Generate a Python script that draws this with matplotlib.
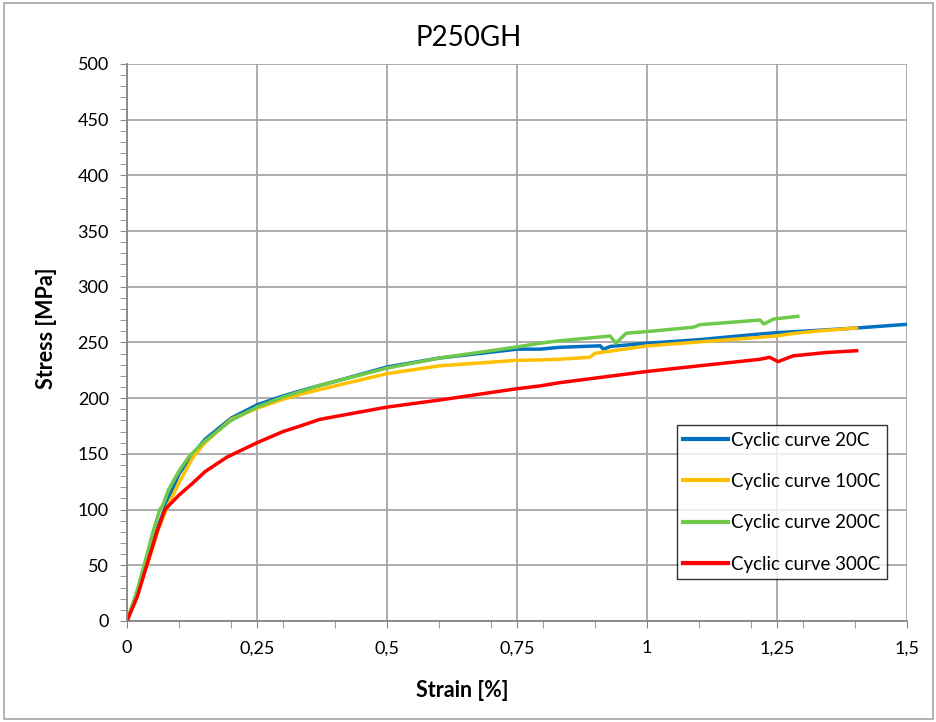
import matplotlib.pyplot as plt
from matplotlib.patches import Rectangle
from matplotlib.ticker import MultipleLocator

plt.rcParams['font.family'] = ['Lato', 'DejaVu Sans']

# cyclic stress-strain curves, strain in %, stress in MPa
strain_20 = [0, 0.02, 0.04, 0.06, 0.08, 0.10, 0.127, 0.15, 0.2, 0.25, 0.3, 0.333, 0.371, 0.4,
             0.5, 0.6, 0.75, 0.794, 0.833, 0.91, 0.916, 0.93, 1.0, 1.1, 1.217, 1.25, 1.333,
             1.403, 1.5]
stress_20 = [0, 25, 55, 85, 110, 132, 150, 163, 182, 194, 202, 206.5, 211.5, 215,
             228, 236, 244, 244, 245.7, 247, 244, 246.5, 249.3, 252.5, 257.6, 258.8, 261,
             263, 266.3]

strain_100 = [0, 0.02, 0.04, 0.06, 0.08, 0.10, 0.127, 0.15, 0.2, 0.25, 0.3, 0.333, 0.4, 0.5,
              0.6, 0.75, 0.794, 0.833, 0.89, 0.9, 1.0, 1.1, 1.217, 1.25, 1.28, 1.333, 1.403]
stress_100 = [0, 25, 52, 82, 105, 124, 147, 160, 181, 191, 199, 203.5, 211, 222,
              229, 234, 234.3, 235, 236.7, 240.3, 246.9, 250.5, 254.6, 256, 258, 260.5, 263]

strain_200 = [0, 0.02, 0.033, 0.05, 0.063, 0.069, 0.08, 0.102, 0.12, 0.146, 0.2, 0.25, 0.3,
              0.371, 0.4, 0.5, 0.6, 0.75, 0.794, 0.833, 0.90, 0.929, 0.940, 0.96, 1.0, 1.089,
              1.102, 1.2, 1.217, 1.225, 1.243, 1.29]
stress_200 = [0, 28, 50, 80, 100, 104, 118, 136, 148, 160, 180, 192, 201,
              211.5, 215, 227, 236, 246, 249.3, 251.6, 254.5, 255.8, 249.3, 258.3, 259.8, 263.7,
              266, 269.5, 270.2, 266.6, 271, 273.5]

strain_300 = [0, 0.02, 0.038, 0.05, 0.057, 0.073, 0.1, 0.127, 0.15, 0.192, 0.25, 0.3, 0.333,
              0.371, 0.5, 0.602, 0.75, 0.794, 0.833, 1.0, 1.217, 1.236, 1.252, 1.281,
              1.345, 1.403]
stress_300 = [0, 22, 50, 68, 79, 100, 113, 124, 134, 147, 160, 170, 175,
              181, 192, 198.4, 208.5, 211, 214, 224, 234.9, 236.7, 232.8, 238,
              241, 242.6]

x_ticks = [0, 0.25, 0.5, 0.75, 1, 1.25, 1.5]
x_labels = ['0', '0,25', '0,5', '0,75', '1', '1,25', '1,5']

fig = plt.figure(figsize=(9.37, 7.22), dpi=100)
ax = fig.add_axes([0.1355, 0.1399, 0.8325, 0.7715])

lw = 2.5
ax.plot(strain_20, stress_20, color='#0070c0', lw=lw, label='Cyclic curve 20C')
ax.plot(strain_100, stress_100, color='#ffc000', lw=lw, label='Cyclic curve 100C')
ax.plot(strain_200, stress_200, color='#70c94a', lw=lw, label='Cyclic curve 200C')
ax.plot(strain_300, stress_300, color='#ff0000', lw=lw, label='Cyclic curve 300C')

ax.set_xlim(0, 1.5)
ax.set_ylim(0, 500)
ax.set_xticks(x_ticks)
ax.set_xticklabels(x_labels)
ax.set_yticks(range(0, 501, 50))
ax.xaxis.set_minor_locator(MultipleLocator(0.1))
ax.yaxis.set_minor_locator(MultipleLocator(10))
ax.tick_params(axis='x', which='major', length=5, pad=9, labelsize=13, color='#868686')
ax.tick_params(axis='y', which='major', length=5, pad=8, labelsize=13, color='#868686')
ax.tick_params(which='minor', length=5, color='#868686')

ax.grid(True, which='major', color='#a6a6a6', lw=1.3)
ax.set_axisbelow(True)
for side in ['top', 'right']:
    ax.spines[side].set_visible(False)
for side in ['left', 'bottom']:
    ax.spines[side].set_color('#868686')
    ax.spines[side].set_linewidth(1.3)

ax.set_xlabel('Strain [%]', fontsize=15.5, fontweight='bold')
ax.set_ylabel('Stress [MPa]', fontsize=15.5, fontweight='bold')
ax.xaxis.set_label_coords(0.43, -0.106)
ax.yaxis.set_label_coords(-0.09, 0.526)
fig.text(0.5, 0.947, 'P250GH', fontsize=20, ha='center', va='center')

leg = ax.legend(loc='lower left', bbox_to_anchor=(0.705, 0.075), fontsize=13.5,
                frameon=True, fancybox=False, handlelength=2.4, handletextpad=0.15,
                labelspacing=1.3, borderpad=0.35, borderaxespad=0)
leg.get_frame().set_edgecolor('black')
leg.get_frame().set_linewidth(1.0)
for line in leg.get_lines():
    line.set_linewidth(3)

# chart area border
fig.patches.append(Rectangle((0.004, 0.004), 0.992, 0.992, transform=fig.transFigure,
                             fill=False, edgecolor='#a6a6a6', lw=1.2))

fig.savefig('out.png', dpi=100)
